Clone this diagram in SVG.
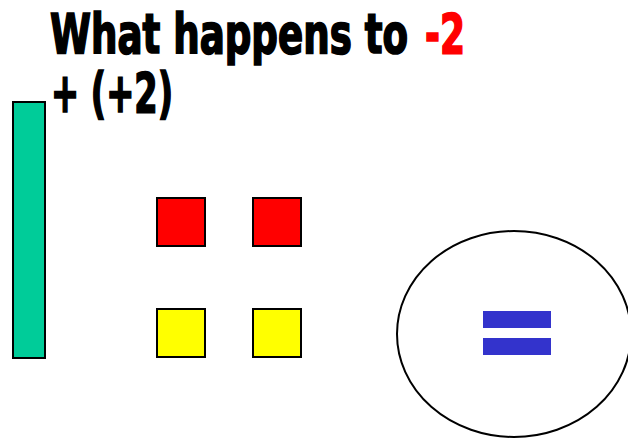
<svg xmlns="http://www.w3.org/2000/svg" width="628" height="439" viewBox="0 0 628 439">
<style>
.t{font-family:"DejaVu Sans Condensed","DejaVu Sans",sans-serif;font-weight:bold;font-size:41px;fill:#000;stroke:#000;stroke-width:1.3}
.r{fill:#ff0000;stroke:#ff0000}
.sq{stroke:#000;stroke-width:2}
</style>
<rect width="628" height="439" fill="#fff"/>
<g id="title">
<text class="t" transform="translate(50,53) scale(1,1.33)" x="0" y="0" textLength="358" lengthAdjust="spacingAndGlyphs">What happens to</text>
<text class="t r" transform="translate(425,53) scale(1,1.33)" x="0" y="0" textLength="40" lengthAdjust="spacingAndGlyphs">-2</text>
<text class="t" transform="translate(51,112) scale(1,1.33)" x="0" y="0" textLength="122" lengthAdjust="spacingAndGlyphs">+ (+2)</text>
</g>
<g id="bar"><rect class="sq" x="13" y="102" width="32" height="256" fill="#00cc99"/></g>
<g id="red1"><rect class="sq" x="157" y="198" width="48" height="48" fill="#ff0000"/></g>
<g id="red2"><rect class="sq" x="253" y="198" width="48" height="48" fill="#ff0000"/></g>
<g id="yellow1"><rect class="sq" x="157" y="309" width="48" height="48" fill="#ffff00"/></g>
<g id="yellow2"><rect class="sq" x="253" y="309" width="48" height="48" fill="#ffff00"/></g>
<g id="result">
<ellipse cx="514" cy="334" rx="117" ry="103" fill="none" stroke="#000" stroke-width="2"/>
<rect x="483" y="311" width="68" height="17" fill="#3333cc"/>
<rect x="483" y="338" width="68" height="17" fill="#3333cc"/>
</g>
</svg>
